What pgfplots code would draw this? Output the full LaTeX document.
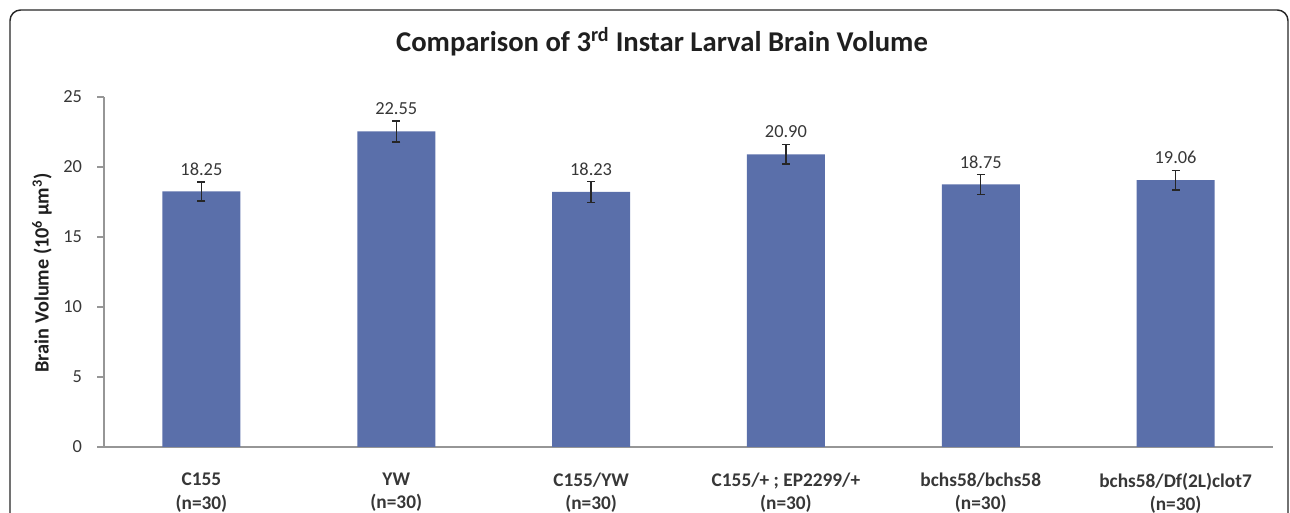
\documentclass[border=0pt]{standalone}
\usepackage{pgfplots}
\pgfplotsset{compat=1.18}
\usepackage{fontspec}
\setmainfont{Carlito}
\definecolor{barblue}{RGB}{90,111,170}
\definecolor{txt}{RGB}{55,55,55}
\definecolor{axgray}{RGB}{150,150,150}
\begin{document}
\begin{tikzpicture}
\useasboundingbox (0pt,0pt) rectangle (967.5pt,384.75pt);
\clip (0pt,0pt) rectangle (967.5pt,384.75pt);
\draw[line width=1.1pt, rounded corners=8pt, color=black!85] (7.5pt,-30pt) rectangle (966pt,377.25pt);
\node[font=\bfseries\fontsize{21.5}{24}\selectfont, text=black!88] at (496.5pt,353.25pt) {Comparison of 3\textsuperscript{rd} Instar Larval Brain Volume};
\node[rotate=90, font=\bfseries\fontsize{15.2}{17}\selectfont, text=black!88] at (31.5pt,180pt) {Brain Volume (10\textsuperscript{6} µm\textsuperscript{3})};
\begin{axis}[
  at={(78pt,49.5pt)}, anchor=south west,
  scale only axis, width=876.75pt, height=262.5pt,
  xmin=0.5, xmax=6.5, ymin=0, ymax=25,
  axis x line*=bottom, axis y line*=left,
  axis line style={axgray, line width=0.8pt},
  every tick/.style={axgray, line width=0.8pt},
  tick align=outside,
  ytick={0,5,...,25},
  major tick length=5pt,
  xtick={1,...,6},
  x tick style={draw=none},
  minor xtick={0.5,1.5,...,6.5},
  minor tick length=6pt,
  minor x tick style={axgray, line width=0.8pt},
  xticklabels={{C155\\(n=30)},{YW\\(n=30)},{C155/YW\\(n=30)},{C155/+ ; EP2299/+\\(n=30)},{bchs58/bchs58\\(n=30)},{bchs58/Df(2L)clot7\\(n=30)}},
  xticklabel style={align=center, font=\bfseries\fontsize{14.5}{17.5}\selectfont, text=txt, anchor=north, yshift=-11pt},
  yticklabel style={font=\fontsize{13.8}{15}\selectfont, text=txt, xshift=-8pt},
  /pgf/number format/assume math mode=true,
  nodes near coords,
  nodes near coords style={font=\fontsize{13.8}{16}\selectfont, text=txt, /pgf/number format/fixed, /pgf/number format/fixed zerofill, /pgf/number format/precision=2, /pgf/number format/assume math mode=true},
  every node near coord/.append style={anchor=center, yshift=17pt},
  clip=false,
]
\addplot[ybar, bar width=58.5pt, fill=barblue, draw=none,
  error bars/.cd, y dir=both, y explicit,
  error bar style={line width=1.1pt, black!85},
  error mark options={rotate=90, mark size=3pt, line width=1.1pt, black!85}]
  coordinates {
  (1,18.25) +- (0,0.68)
  (2,22.55) +- (0,0.75)
  (3,18.23) +- (0,0.75)
  (4,20.90) +- (0,0.70)
  (5,18.75) +- (0,0.72)
  (6,19.06) +- (0,0.70)
  };
\end{axis}
\end{tikzpicture}
\end{document}
